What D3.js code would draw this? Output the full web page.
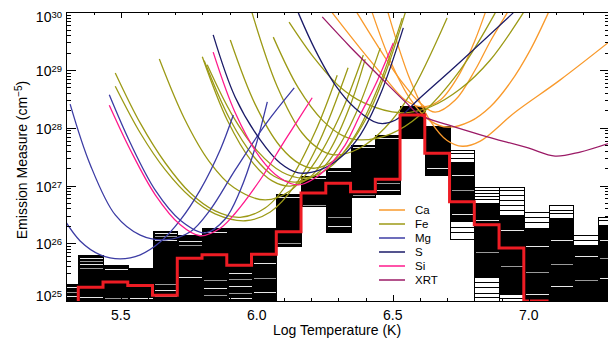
<!DOCTYPE html>
<html><head><meta charset="utf-8">
<script src="https://cdn.jsdelivr.net/npm/d3@7"></script>
<style>body{margin:0;background:#fff}svg{display:block}</style>
</head><body><div id="chart"></div>
<script>
// ---------------- DATA ----------------
const xTickMajor = [5.5, 6.0, 6.5, 7.0];
const xTickLabels = ["5.5", "6.0", "6.5", "7.0"];
const xTickMinor = [5.4,5.6,5.7,5.8,5.9,6.1,6.2,6.3,6.4,6.6,6.7,6.8,6.9,7.1,7.2];
const yTickPowers = [25, 26, 27, 28, 29, 30];

// histogram bin edges (log T)
const binEdges = [5.253,5.344,5.435,5.526,5.617,5.708,5.799,5.890,5.981,6.072,6.163,6.254,6.345,6.436,6.527,6.618,6.709,6.800,6.891,6.982,7.073,7.164,7.255,7.346];
// best-fit DEM (red), log10 EM per bin (bins 1..19)
const emBest = [25.24,25.33,25.27,25.10,25.74,25.80,25.62,25.81,26.20,26.87,27.04,26.89,27.11,28.22,27.56,26.72,26.32,25.92,25.0];
// Monte Carlo envelope per bin (bins 0..22)
const mcTop      = [25.28,25.78,25.61,25.57,26.21,26.13,26.25,26.25,26.26,26.84,27.15,27.29,27.70,27.87,28.37,28.02,27.60,26.96,26.96,26.54,26.65,26.13,26.45];
const mcBottom   = [25,25,25,25,25,25,25,25,25,25.94,26.63,26.18,26.80,26.84,27.82,27.18,26.06,25,25,25,25,25,25];
const mcSolidTop = [25.28,25.78,25.61,25.57,26.21,26.13,26.25,26.25,26.26,26.84,27.15,27.29,27.70,27.87,28.37,28.02,27.41,26.70,26.49,26.26,26.44,25.97,26.32];
const mcSolidBot = [25,25,25,25,25,25,25,25,25,25.94,26.63,26.18,26.80,26.84,27.82,27.18,26.37,25.40,25.10,25,25,25,25];
const mcWhite = [
  [25.24,25.16,25.09],
  [25.74,25.69,25.64,25.58,25.07],
  [25.55,25.06],
  [25.06],
  [26.18,26.13,26.06,25.29,25.19,25.09],
  [26.04,25.97,25.42],
  [26.20,25.36,25.22,25.10],
  [25.48,25.38,25.26,25.14,25.05],
  [25.66,25.40,25.16],
  [26.80,26.00],
  [27.13,26.66],
  [27.25,26.45,26.30],
  [27.66,26.84],
  [27.83,27.04,26.92],
  [],
  [27.30],
  [27.18,26.92,26.51],
  [26.40,25.85],
  [26.23,25.60],
  [25.95,25.50,25.12],
  [26.06,25.64,25.26],
  [25.78,25.36],
  [26.06,25.74,25.40]
];
const mcBlack = [
  [],[],[],[],[],[],[],[],[],[],[],[],[],[],[],[],
  [27.56,27.48,26.28,26.20],
  [26.92,26.87,26.82,26.77,25.33,25.24,25.14,25.07],
  [26.92,26.84,26.75,26.66,26.58,25.05],
  [26.45,26.37],
  [26.58,26.52],
  [26.06],
  [26.40]
];

// EM loci curves: [logT, log10 EM] points
const caCurves = [
  [[6.278,29.99],[6.380,29.38],[6.472,28.86],[6.546,28.48],[6.608,28.36],[6.675,28.48],[6.748,28.95],[6.803,29.52],[6.840,29.99]],
  [[6.369,29.99],[6.454,29.35],[6.528,28.83],[6.601,28.43],[6.656,28.27],[6.730,28.48],[6.803,29.00],[6.858,29.49],[6.921,29.99]],
  [[6.425,29.99],[6.491,29.16],[6.564,28.50],[6.638,28.12],[6.704,28.01],[6.785,28.11],[6.858,28.36],[6.932,28.78],[7.006,29.35],[7.072,29.99]],
  [[6.483,29.99],[6.564,28.83],[6.638,28.12],[6.700,27.78],[6.756,27.68],[6.822,27.77],[6.950,28.27],[7.116,28.83],[7.307,29.53]]
];
const feCurves = [
  [[5.480,28.95],[5.572,28.08],[5.664,27.39],[5.756,26.87],[5.847,26.56],[5.939,26.45],[6.031,26.61],[6.123,27.10],[6.215,27.93],[6.296,28.91]],
  [[5.480,28.72],[5.572,27.91],[5.664,27.27],[5.756,26.80],[5.847,26.51],[5.958,26.39],[6.050,26.54],[6.142,27.01],[6.233,27.79],[6.336,29.04]],
  [[5.642,29.19],[5.733,28.17],[5.825,27.42],[5.917,26.96],[6.031,26.75],[6.123,26.91],[6.215,27.41],[6.307,28.22],[6.392,29.26]],
  [[5.800,29.23],[5.892,28.13],[5.983,27.41],[6.057,27.08],[6.123,26.99],[6.197,27.15],[6.270,27.62],[6.344,28.39],[6.399,29.19]],
  [[5.807,29.16],[5.899,28.17],[5.991,27.49],[6.064,27.16],[6.142,27.06],[6.215,27.18],[6.289,27.58],[6.362,28.22],[6.454,29.38]],
  [[5.818,29.09],[5.910,28.22],[6.002,27.60],[6.094,27.23],[6.178,27.13],[6.270,27.32],[6.362,27.87],[6.454,28.79],[6.535,29.90]],
  [[5.903,29.52],[5.994,28.41],[6.086,27.68],[6.160,27.37],[6.215,27.30],[6.307,27.51],[6.399,28.13],[6.472,28.93],[6.546,29.99]],
  [[5.983,29.99],[6.075,28.72],[6.167,27.91],[6.241,27.60],[6.289,27.53],[6.380,27.65],[6.472,28.00],[6.564,28.58],[6.700,29.90]],
  [[6.061,29.57],[6.153,28.69],[6.244,28.12],[6.318,27.86],[6.380,27.79],[6.491,27.89],[6.601,28.22],[6.748,29.00],[6.877,29.99]],
  [[6.119,29.83],[6.211,29.21],[6.303,28.72],[6.395,28.43],[6.528,28.26],[6.638,28.36],[6.748,28.67],[6.858,29.17],[6.980,29.99]]
];
const mgCurves = [
  [[5.278,26.52],[5.351,26.04],[5.425,25.80],[5.498,25.73],[5.572,25.80],[5.645,26.02],[5.719,26.40],[5.792,26.92],[5.866,27.62],[5.914,28.22]],
  [[5.314,28.41],[5.388,27.36],[5.480,26.49],[5.572,26.14],[5.664,26.06],[5.756,26.20],[5.829,26.58],[5.921,27.27],[6.031,28.05],[6.138,28.69]],
  [[5.458,28.57],[5.535,27.74],[5.627,26.92],[5.719,26.40],[5.811,26.18],[5.884,26.42],[5.939,26.91],[5.994,27.65],[6.039,28.45]]
];
const sCurves = [
  [[5.840,29.61],[5.921,28.53],[6.013,27.79],[6.086,27.39],[6.153,27.22],[6.233,27.27],[6.307,27.48],[6.380,27.87],[6.454,28.57],[6.539,29.73]],
  [[6.153,29.99],[6.215,29.35],[6.289,28.74],[6.362,28.34],[6.447,28.08],[6.509,28.13],[6.601,28.52],[6.748,29.14],[6.943,29.99]]
];
const siCurves = [
  [[5.458,28.39],[5.535,27.62],[5.627,26.84],[5.719,26.32],[5.792,26.13],[5.866,26.26],[5.921,26.52],[6.013,27.10],[6.105,27.79],[6.204,28.52]],
  [[5.840,29.31],[5.921,28.26],[6.013,27.48],[6.086,27.13],[6.153,27.01],[6.215,27.13],[6.270,27.36],[6.325,27.70],[6.380,28.22],[6.436,28.74],[6.502,29.47]]
];
const xrtCurves = [
  [[6.241,29.92],[6.344,29.40],[6.454,28.88],[6.546,28.45],[6.601,28.22],[6.704,28.05],[6.829,27.87],[6.998,27.65],[7.097,27.51],[7.189,27.58],[7.307,27.75]]
];
const legendNames = ["Ca", "Fe", "Mg", "S", "Si", "XRT"];
const legendColors = ["#f99a2c", "#9c9a16", "#3c3ca4", "#1b1b68", "#ff1a8c", "#9b1a66"];
const seriesCurves = [caCurves, feCurves, mgCurves, sCurves, siCurves, xrtCurves];

// ---------------- CHART ----------------
const W = 608, H = 343;
const FONT = "'Liberation Sans', Arial, Helvetica, sans-serif";
const L = 66.3, R = 610.3, T = 12.3, B = 301;
const x = d3.scaleLinear().domain([5.3, 7.3]).range([L, R]);
const y = d3.scaleLog().domain([1e25, 1e30]).range([B, T]);
const ye = e => y(Math.pow(10, e));

const svg = d3.select("#chart").append("svg").attr("width", W).attr("height", H)
  .style("font-family", FONT);
svg.append("rect").attr("width", W).attr("height", H).attr("fill", "#fff");
svg.append("clipPath").attr("id", "clip").append("rect")
  .attr("x", L).attr("y", T).attr("width", R - L).attr("height", B - T);

const plot = svg.append("g").attr("clip-path", "url(#clip)");

// MC histogram boxes
const hist = plot.append("g").attr("shape-rendering", "crispEdges");
mcTop.forEach((top, i) => {
  const x0 = Math.round(x(binEdges[i])) + 0.5, x1 = Math.round(x(binEdges[i + 1])) + 0.5;
  const g = hist.append("g");
  g.append("rect").attr("x", x0).attr("width", x1 - x0)
    .attr("y", ye(top)).attr("height", ye(mcBottom[i]) - ye(top))
    .attr("fill", "#fff").attr("stroke", "#000").attr("stroke-width", 1);
  g.append("rect").attr("x", x0).attr("width", x1 - x0)
    .attr("y", ye(mcSolidTop[i])).attr("height", ye(mcSolidBot[i]) - ye(mcSolidTop[i]))
    .attr("fill", "#000");
  mcWhite[i].forEach((v, j) => g.append("line").attr("x1", x0 + 1).attr("x2", x1 - 1)
    .attr("y1", Math.round(ye(v)) + 0.5).attr("y2", Math.round(ye(v)) + 0.5)
    .attr("stroke", j % 2 ? "#9a9a9a" : "#e8e8e8").attr("stroke-width", 1));
  mcBlack[i].forEach(v => g.append("line").attr("x1", x0).attr("x2", x1)
    .attr("y1", Math.round(ye(v)) + 0.5).attr("y2", Math.round(ye(v)) + 0.5)
    .attr("stroke", "#000").attr("stroke-width", 1));
});

// EM loci curves
const line = d3.line().x(d => x(d[0])).y(d => ye(d[1])).curve(d3.curveCatmullRom.alpha(0.5));
seriesCurves.forEach((curves, k) => {
  curves.forEach(c => plot.append("path").attr("d", line(c)).attr("fill", "none")
    .attr("stroke", legendColors[k]).attr("stroke-width", 1.3));
});

// best-fit red step line
const redPts = [[binEdges[1], 25]];
emBest.forEach((v, i) => { redPts.push([binEdges[i + 1], v]); redPts.push([binEdges[i + 2], v]); });
redPts.push([binEdges[emBest.length + 1], 25]);
plot.append("path").attr("d", d3.line().x(d => x(d[0])).y(d => ye(d[1]))(redPts))
  .attr("fill", "none").attr("stroke", "#ee1c24").attr("stroke-width", 3).attr("stroke-linejoin", "miter");

// legend
const lg = svg.append("g");
legendNames.forEach((n, i) => {
  const yy = 210 + i * 14;
  lg.append("line").attr("x1", 379).attr("x2", 405).attr("y1", yy).attr("y2", yy)
    .attr("stroke", legendColors[i]).attr("stroke-width", 1.5);
  lg.append("text").attr("x", 415).attr("y", yy + 4).style("font-size", "11.5px").text(n);
});

// axes
const ax = svg.append("g").attr("shape-rendering", "crispEdges");
ax.append("g").attr("transform", `translate(0,${B})`)
  .call(d3.axisBottom(x).tickValues(xTickMajor).tickSize(-6).tickFormat(""));
ax.append("g").attr("transform", `translate(0,${B})`)
  .call(d3.axisBottom(x).tickValues(xTickMinor).tickSize(-3).tickFormat(""));
ax.append("g").attr("transform", `translate(0,${T})`)
  .call(d3.axisTop(x).tickValues(xTickMajor).tickSize(-6).tickFormat(""));
ax.append("g").attr("transform", `translate(0,${T})`)
  .call(d3.axisTop(x).tickValues(xTickMinor).tickSize(-3).tickFormat(""));
const yMajor = yTickPowers.map(p => Math.pow(10, p));
const yMinor = [];
yTickPowers.slice(0, -1).forEach(p => { for (let k = 2; k <= 9; k++) yMinor.push(k * Math.pow(10, p)); });
ax.append("g").attr("transform", `translate(${L},0)`)
  .call(d3.axisLeft(y).tickValues(yMajor).tickSize(-10).tickFormat(""));
ax.append("g").attr("transform", `translate(${L},0)`)
  .call(d3.axisLeft(y).tickValues(yMinor).tickSize(-5).tickFormat(""));
ax.append("g").attr("transform", `translate(${R},0)`)
  .call(d3.axisRight(y).tickValues(yMajor).tickSize(-10).tickFormat(""));
ax.append("g").attr("transform", `translate(${R},0)`)
  .call(d3.axisRight(y).tickValues(yMinor).tickSize(-5).tickFormat(""));
ax.selectAll("path.domain").attr("stroke", "#000");
ax.selectAll("line").attr("stroke", "#000");

// x tick labels
xTickMajor.forEach((v, i) => svg.append("text").attr("x", x(v)).attr("y", 319.5)
  .attr("text-anchor", "middle").style("font-size", "14px").text(xTickLabels[i]));
// y tick labels
yTickPowers.forEach(p => {
  const c = Math.min(Math.max(y(Math.pow(10, p)) + 1, 16.7), 296.3);
  const t = svg.append("text").attr("x", 62).attr("y", c + 5).attr("text-anchor", "end")
    .style("font-size", "14px");
  t.append("tspan").text("10");
  t.append("tspan").attr("dy", -4).style("font-size", "9.5px").text(p);
});
// titles
svg.append("text").attr("x", 337).attr("y", 335).attr("text-anchor", "middle")
  .style("font-size", "14px").text("Log Temperature (K)");
const yt = svg.append("text").attr("transform", "translate(27,160) rotate(-90)")
  .attr("text-anchor", "middle").style("font-size", "14px");
yt.append("tspan").text("Emission Measure (cm");
yt.append("tspan").attr("dy", -5).style("font-size", "10px").text("\u22125");
yt.append("tspan").attr("dy", 5).text(")");
</script></body></html>
